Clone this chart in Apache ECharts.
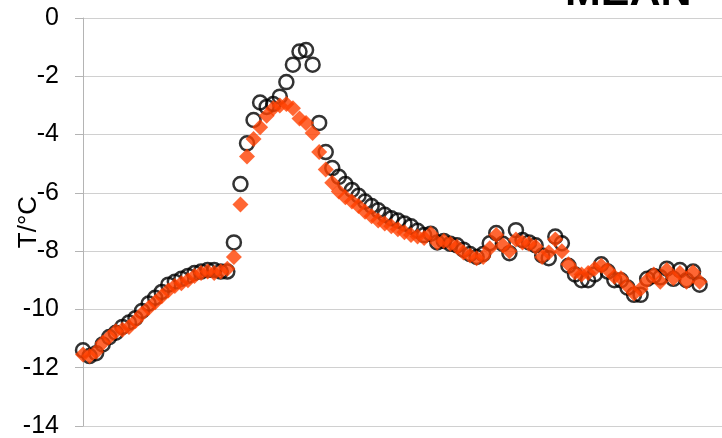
<!DOCTYPE html>
<html>
<head>
<meta charset="utf-8">
<script src="https://cdn.jsdelivr.net/npm/echarts@6/dist/echarts.min.js"></script>
<style>
  html, body { margin: 0; padding: 0; background: #fff; }
  #chart { width: 722px; height: 438px; }
</style>
</head>
<body>
<div id="chart"></div>
<script>
// Temperature readings (°C), one value per sample step
const measured = [
  -11.4, -11.6, -11.5, -11.2, -10.95, -10.8, -10.6, -10.45, -10.3, -10.05,
  -9.8, -9.6, -9.4, -9.15, -9.05, -8.95, -8.85, -8.75, -8.7, -8.65,
  -8.65, -8.7, -8.7, -7.7, -5.7, -4.3, -3.5, -2.9, -3.05, -2.95,
  -2.7, -2.2, -1.6, -1.15, -1.1, -1.6, -3.6, -4.6, -5.15, -5.45,
  -5.7, -5.9, -6.1, -6.3, -6.45, -6.6, -6.75, -6.87, -6.95, -7.05,
  -7.15, -7.3, -7.45, -7.4, -7.7, -7.65, -7.75, -7.8, -7.95, -8.1,
  -8.2, -8.1, -7.73, -7.38, -7.75, -8.07, -7.28, -7.62, -7.7, -7.8,
  -8.15, -8.24, -7.5, -7.73, -8.5, -8.8, -9.0, -9.0, -8.8, -8.45,
  -8.7, -9.0, -9.0, -9.25, -9.5, -9.5, -8.95, -8.85, -8.9, -8.6,
  -8.95, -8.65, -9.0, -8.7, -9.15
];
const modelled = [
  -11.55, -11.6, -11.45, -11.15, -10.95, -10.75, -10.7, -10.6, -10.4, -10.15,
  -9.95, -9.75, -9.55, -9.35, -9.2, -9.1, -9.0, -8.85, -8.75, -8.7,
  -8.75, -8.7, -8.6, -8.2, -6.4, -4.75, -4.15, -3.75, -3.35, -3.1,
  -3.0, -2.95, -3.1, -3.45, -3.6, -3.95, -4.6, -5.2, -5.65, -5.95,
  -6.15, -6.3, -6.45, -6.65, -6.8, -6.95, -7.05, -7.15, -7.25, -7.35,
  -7.45, -7.5, -7.55, -7.4, -7.7, -7.65, -7.75, -7.85, -8.05, -8.15,
  -8.24, -8.2, -7.9, -7.45, -7.8, -8.0, -7.6, -7.7, -7.75, -7.85,
  -8.2, -8.05, -7.6, -8.0, -8.45, -8.72, -8.8, -8.75, -8.6, -8.5,
  -8.65, -8.88, -8.93, -9.2, -9.45, -9.3, -9.0, -8.8, -9.05, -8.65,
  -8.93, -8.75, -9.05, -8.72, -9.05
];
const yTicks = [0, -2, -4, -6, -8, -10, -12, -14];
const yAxisName = 'T/°C';

const chart = echarts.init(document.getElementById('chart'), null, { renderer: 'canvas' });
const font = 'Liberation Sans, Arial, sans-serif';

chart.setOption({
  animation: false,
  backgroundColor: '#ffffff',
  grid: { left: 83, top: 18, bottom: 12, right: -17, containLabel: false, outerBoundsMode: 'none' },
  xAxis: {
    type: 'value', min: 0, max: 100,
    axisLine: { show: false }, axisTick: { show: false },
    axisLabel: { show: false }, splitLine: { show: false }
  },
  yAxis: {
    type: 'value',
    min: Math.min(...yTicks), max: Math.max(...yTicks), interval: 2,
    name: yAxisName, nameLocation: 'middle', nameGap: 41, nameRotate: 90,
    nameMoveOverlap: false,
    nameTextStyle: { fontFamily: font, fontSize: 26, color: '#000' },
    axisLine: { show: true, lineStyle: { color: '#b4b4b4', width: 1 } },
    axisTick: { show: true, length: 8, lineStyle: { color: '#b4b4b4' } },
    axisLabel: { margin: 24, fontFamily: font, fontSize: 25, color: '#000' },
    splitLine: { lineStyle: { color: '#d0d0d0', width: 1 } }
  },
  graphic: [{
    type: 'text', x: 565, y: -7, z: 10,
    style: { text: 'MEAN', font: 'bold 43px ' + font, fill: '#000', verticalAlign: 'middle' }
  }],
  series: [
    {
      type: 'scatter', name: 'measured',
      data: measured.map((v, i) => [i, v]),
      symbol: 'circle', symbolSize: 14,
      itemStyle: { color: 'rgba(255,255,255,0)', borderColor: '#000', borderWidth: 2.5 },
      z: 2
    },
    {
      type: 'scatter', name: 'modelled',
      data: modelled.map((v, i) => [i, v]),
      symbol: 'diamond', symbolSize: [16, 16],
      itemStyle: { color: '#ff4000' },
      z: 3
    }
  ]
});
</script>
</body>
</html>
